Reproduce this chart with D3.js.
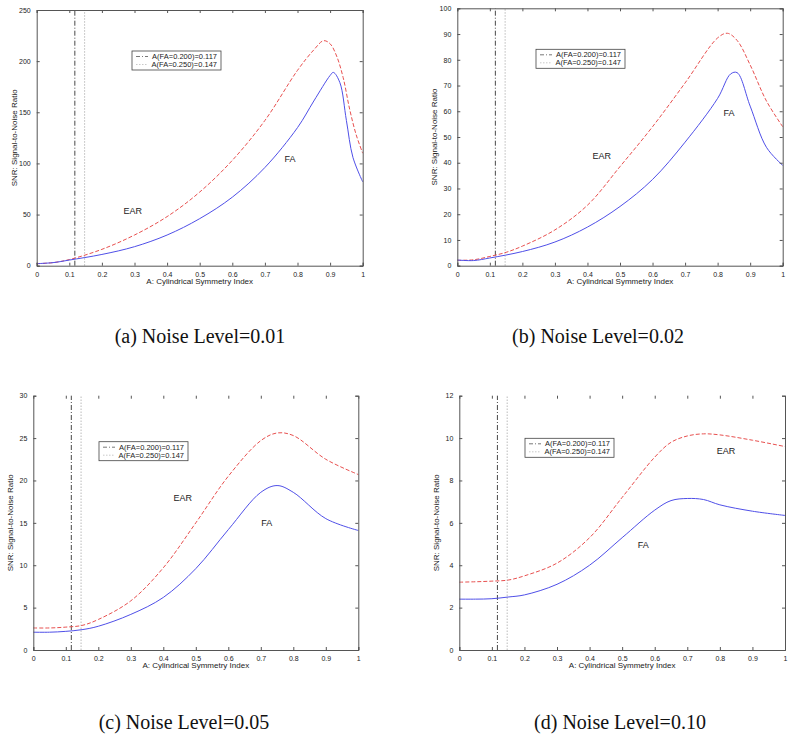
<!DOCTYPE html>
<html>
<head>
<meta charset="utf-8">
<script src="https://cdn.jsdelivr.net/npm/d3@7"></script>
<style>
  body { margin: 0; background: #fff; }
  svg text { font-family: Arial, "Liberation Sans", sans-serif; fill: #222; }
  .caption { font-family: "Liberation Serif", "Times New Roman", serif !important; font-size: 20px; fill: #111; }
</style>
</head>
<body>
<svg id="chart" width="800" height="745"></svg>
<script>
// ---- data ----
const xTicks = [0, 0.1, 0.2, 0.3, 0.4, 0.5, 0.6, 0.7, 0.8, 0.9, 1];
const markers = [0.117, 0.147];
const legendLabels = ["A(FA=0.200)=0.117", "A(FA=0.250)=0.147"];

// (a) noise 0.01
const xA   = [0, 0.05, 0.1, 0.2, 0.3, 0.4, 0.5, 0.6, 0.7, 0.8, 0.85, 0.88, 0.9, 0.92, 0.94, 0.96, 0.98, 1.0];
const earA = [2, 3, 6, 16, 30, 48, 72, 103, 142, 191, 211, 220, 217, 205, 184, 153, 128, 110];
const xA2  = [0, 0.05, 0.1, 0.2, 0.3, 0.4, 0.5, 0.6, 0.7, 0.8, 0.85, 0.9, 0.91, 0.93, 0.95, 0.97, 1.0];
const faA  = [2, 3, 5.5, 11, 18.6, 30, 46, 67, 96, 135, 161, 186, 189, 179, 142, 106, 82];

// (b) noise 0.02
const xB   = [0, 0.05, 0.1, 0.15, 0.2, 0.3, 0.4, 0.5, 0.6, 0.7, 0.8, 0.83, 0.86, 0.9, 0.95, 1.0];
const earB = [2.1, 2.3, 3.6, 5.2, 7.6, 13.9, 23.5, 38.5, 54, 71, 88.5, 90.3, 87.5, 78, 64, 54];
const xB2  = [0, 0.05, 0.1, 0.2, 0.3, 0.4, 0.5, 0.6, 0.7, 0.8, 0.84, 0.86, 0.9, 0.95, 1.0];
const faB  = [2.2, 2.0, 3.0, 5.5, 9.2, 15, 23, 33.5, 48, 65, 74.5, 75, 62, 46, 39];

// (c) noise 0.05
const xC   = [0, 0.05, 0.1, 0.15, 0.2, 0.3, 0.4, 0.5, 0.6, 0.7, 0.75, 0.8, 0.9, 1.0];
const earC = [2.6, 2.6, 2.7, 2.9, 3.6, 5.8, 9.7, 15, 20.5, 24.7, 25.6, 25.3, 22.5, 20.7];
const faC  = [2.1, 2.1, 2.2, 2.4, 2.8, 4.2, 6.2, 9.6, 14.2, 18.6, 19.4, 18.6, 15.5, 14.1];

// (d) noise 0.10
const xD   = [0, 0.05, 0.1, 0.15, 0.2, 0.3, 0.4, 0.5, 0.6, 0.65, 0.7, 0.75, 0.8, 0.9, 1.0];
const earD = [3.2, 3.22, 3.25, 3.3, 3.5, 4.1, 5.3, 7.2, 9.1, 9.8, 10.1, 10.2, 10.15, 9.9, 9.6];
const faD  = [2.4, 2.4, 2.42, 2.5, 2.6, 3.1, 4.0, 5.3, 6.6, 7.05, 7.15, 7.1, 6.85, 6.55, 6.35];

const panels = [
  {x0: 36.7, x1: 362.7, y0: 265.7, y1: 10, yMax: 250, yStep: 50, top: true,
   earX: xA, ear: earA, faX: xA2, fa: faA, caption: "(a) Noise Level=0.01", cx: 200, cy: 343,
   legend: [132, 51], earLbl: [0.295, 54], faLbl: [0.777, 104]},
  {x0: 457.3, x1: 782.7, y0: 265.7, y1: 8.3, yMax: 100, yStep: 10, top: true,
   earX: xB, ear: earB, faX: xB2, fa: faB, caption: "(b) Noise Level=0.02", cx: 598, cy: 343,
   legend: [536, 49.3], earLbl: [0.444, 42.6], faLbl: [0.835, 59.4]},
  {x0: 33.3, x1: 358.3, y0: 650, y1: 395.7, yMax: 30, yStep: 5, top: false,
   earX: xC, ear: earC, faX: xC, fa: faC, caption: "(c) Noise Level=0.05", cx: 184, cy: 729,
   legend: [99, 441.7], earLbl: [0.46, 18], faLbl: [0.718, 15]},
  {x0: 459.3, x1: 785, y0: 650, y1: 395.7, yMax: 12, yStep: 2, top: false,
   earX: xD, ear: earD, faX: xD, fa: faD, caption: "(d) Noise Level=0.10", cx: 620, cy: 729,
   legend: [525, 438.3], earLbl: [0.819, 9.4], faLbl: [0.565, 4.95]}
];

const svg = d3.select("#chart");
const boxColor = "#555";

panels.forEach(function(p) {
  let x = d3.scaleLinear().domain([0, 1]).range([p.x0, p.x1]);
  let y = d3.scaleLinear().domain([0, p.yMax]).range([p.y0, p.y1]);
  let yTicks = d3.range(0, p.yMax + p.yStep / 2, p.yStep);
  let g = svg.append("g");

  // marker lines
  g.append("line")
    .attr("x1", x(markers[0])).attr("x2", x(markers[0]))
    .attr("y1", y(0)).attr("y2", y(p.yMax))
    .attr("stroke", "#333").attr("stroke-width", 0.9)
    .attr("stroke-dasharray", "5,2,1,2");
  g.append("line")
    .attr("x1", x(markers[1])).attr("x2", x(markers[1]))
    .attr("y1", y(0)).attr("y2", y(p.yMax))
    .attr("stroke", "#bbb").attr("stroke-width", 1)
    .attr("stroke-dasharray", "1.5,1.5");

  // curves
  let line = d3.line().curve(d3.curveCatmullRom.alpha(0.5))
    .x(function(d) { return x(d[0]); })
    .y(function(d) { return y(d[1]); });

  g.append("path")
    .datum(p.earX.map(function(v, i) { return [v, p.ear[i]]; }))
    .attr("d", line)
    .attr("fill", "none").attr("stroke", "#e8504f").attr("stroke-width", 1)
    .attr("stroke-dasharray", "4,2");
  g.append("path")
    .datum(p.faX.map(function(v, i) { return [v, p.fa[i]]; }))
    .attr("d", line)
    .attr("fill", "none").attr("stroke", "#4f4fe8").attr("stroke-width", 1);

  // axes, MATLAB style: ticks inward on all sides
  let bottom = g.append("g").attr("transform", "translate(0," + p.y0 + ")")
    .call(d3.axisBottom(x).tickValues(xTicks).tickSize(-3).tickPadding(6)
      .tickFormat(function(d) { return d === 0 || d === 1 ? d3.format("d")(d) : d3.format(".1f")(d); }));
  let topAx = g.append("g").attr("transform", "translate(0," + p.y1 + ")")
    .call(d3.axisTop(x).tickValues(xTicks).tickSize(-3).tickFormat(""));
  let left = g.append("g").attr("transform", "translate(" + p.x0 + ",0)")
    .call(d3.axisLeft(y).tickValues(yTicks).tickSize(-3).tickPadding(6));
  let right = g.append("g").attr("transform", "translate(" + p.x1 + ",0)")
    .call(d3.axisRight(y).tickValues(yTicks).tickSize(-3).tickFormat(""));

  [bottom, topAx, left, right].forEach(function(a) {
    a.selectAll("path").attr("stroke", boxColor);
    a.selectAll("line").attr("stroke", boxColor);
    a.selectAll("text").style("font-size", "7px").attr("fill", "#333");
  });
  if (!p.top) {
    topAx.select("path").remove();
  }

  // axis labels
  g.append("text")
    .attr("x", (p.x0 + p.x1) / 2).attr("y", p.y0 + 18)
    .attr("text-anchor", "middle").style("font-size", "8px")
    .text("A: Cylindrical Symmetry Index");
  g.append("text")
    .attr("transform", "translate(" + (p.x0 - 20) + "," + ((p.y0 + p.y1) / 2) + ") rotate(-90)")
    .attr("text-anchor", "middle").style("font-size", "8px")
    .text("SNR: Signal-to-Noise Ratio");

  // curve labels
  g.append("text")
    .attr("x", x(p.earLbl[0])).attr("y", y(p.earLbl[1]))
    .attr("text-anchor", "middle").attr("dy", "0.35em").style("font-size", "9px")
    .text("EAR");
  g.append("text")
    .attr("x", x(p.faLbl[0])).attr("y", y(p.faLbl[1]))
    .attr("text-anchor", "middle").attr("dy", "0.35em").style("font-size", "9px")
    .text("FA");

  // legend
  let lg = g.append("g").attr("transform", "translate(" + p.legend[0] + "," + p.legend[1] + ")");
  lg.append("rect").attr("width", 89).attr("height", 19)
    .attr("fill", "#fff").attr("stroke", "#444").attr("stroke-width", 0.8);
  lg.append("line").attr("x1", 4).attr("x2", 16).attr("y1", 5.5).attr("y2", 5.5)
    .attr("stroke", "#555").attr("stroke-width", 0.8).attr("stroke-dasharray", "4,2,1,2");
  lg.append("line").attr("x1", 4).attr("x2", 16).attr("y1", 13.5).attr("y2", 13.5)
    .attr("stroke", "#bbb").attr("stroke-width", 0.8).attr("stroke-dasharray", "1.5,1.5");
  lg.selectAll("text.leg").data(legendLabels).enter().append("text")
    .attr("class", "leg")
    .attr("x", 85).attr("y", function(d, i) { return 5.5 + i * 8; })
    .attr("dy", "0.35em").attr("text-anchor", "end").style("font-size", "7.5px")
    .text(function(d) { return d; });

  // caption
  svg.append("text").attr("class", "caption")
    .attr("x", p.cx).attr("y", p.cy).attr("text-anchor", "middle")
    .text(p.caption);
});
</script>
</body>
</html>
